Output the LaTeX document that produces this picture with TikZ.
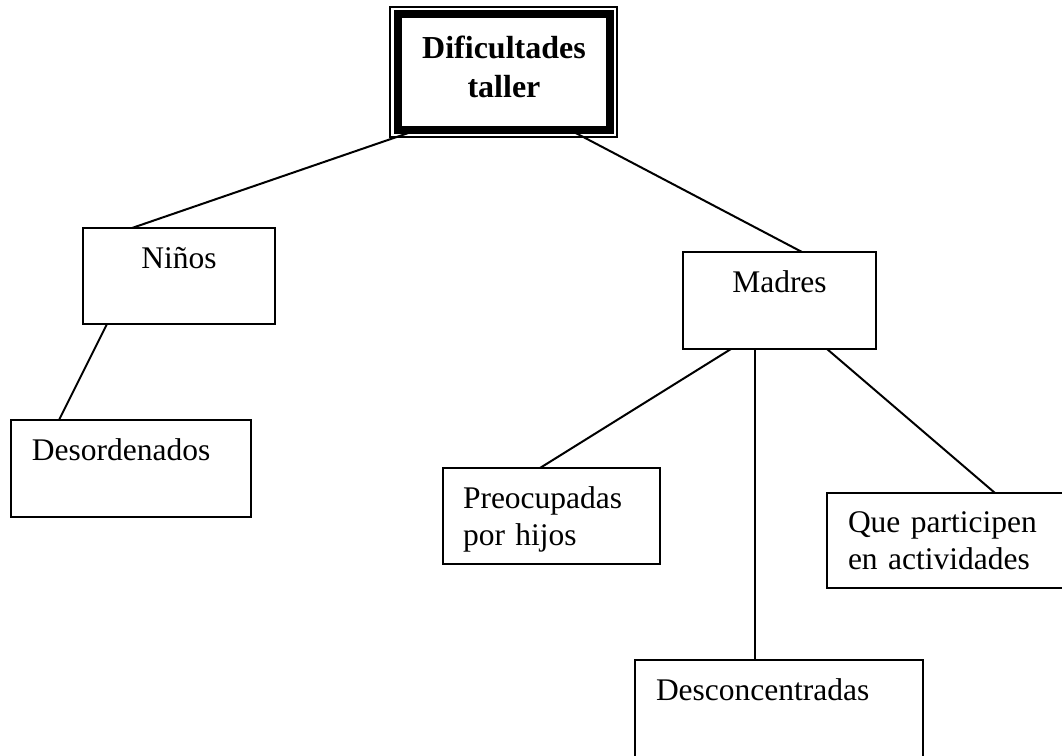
\documentclass[tikz,border=0pt]{standalone}
\usepackage{fontspec}
\setmainfont{Liberation Serif}
\usetikzlibrary{positioning}

\tikzset{
    box/.style={draw, line width=1pt, inner sep=0pt, outer sep=0pt, anchor=north west,
        font=\fontsize{15.75}{18.5}\selectfont},
    leftbox/.style={box, align=left, inner xsep=10.5pt},
    titlebox/.style={draw, line width=4pt, inner sep=0pt, outer sep=0pt, align=center,
        text width=100pt, font=\fontsize{16}{19.5}\selectfont\bfseries},
    link/.style={line width=1pt}
}

\begin{document}
\begin{tikzpicture}[x=0.5pt, y=-0.5pt]
        \useasboundingbox (0,0) rectangle (1062,756);
        \clip (0,0) rectangle (1062,756);

        \node[titlebox, minimum width=106pt, minimum height=58pt, text height=22pt, text depth=36pt] (T) at (504,72) {Dificultades\\taller};
        \draw[line width=0.6pt] ([shift={(-8,-7)}]T.north west) rectangle ([shift={(7,7)}]T.south east);

        \node[box, minimum width=96pt, text height=20pt, text depth=28pt] (N) at (83,228) {Niños};
        \node[box, minimum width=96.5pt, text height=20pt, text depth=28.5pt] (M) at (683,252) {Madres};

        \node[leftbox, text width=99pt, text height=20pt, text depth=28.5pt] (D) at (11,420) {Desordenados};
        \node[leftbox, inner xsep=10pt, text width=88.5pt, text height=20pt, text depth=28pt] (P) at (443,468) {Preocupadas\\por hijos};
        \node[leftbox, text width=112pt, text height=19.5pt, text depth=28pt] (Q) at (827,493) {Que participen\\en actividades};
        \node[leftbox, text width=123pt, text height=20pt, text depth=28.5pt] (C) at (635,660) {Desconcentradas};

        \draw[link] ([xshift=9.5pt]T.south west) -- ([xshift=24.5pt]N.north west);
        \draw[link] ([xshift=-20pt]T.south east) -- ([xshift=59.5pt]M.north west);
        \draw[link] ([xshift=12pt]N.south west) -- ([xshift=24pt]D.north west);

        % madres
        \draw[link] ([xshift=24pt]M.south west) -- ([xshift=48.5pt]P.north west);
        \draw[link] ([xshift=36pt]M.south west) -- ([xshift=60pt]C.north west);
        \draw[link] ([xshift=72pt]M.south west) -- ([xshift=84pt]Q.north west);
    \end{tikzpicture}
\end{document}
